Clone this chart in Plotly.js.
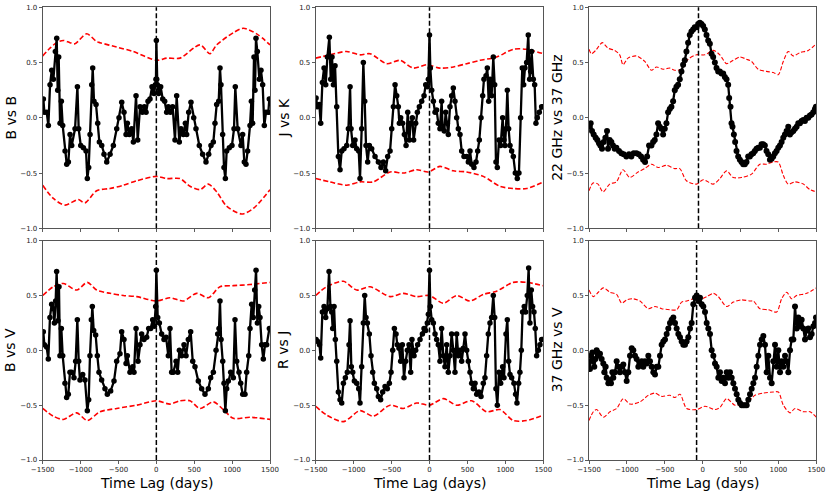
<!DOCTYPE html>
<html><head><meta charset="utf-8">
<script src="https://cdn.plot.ly/plotly-3.0.1.min.js"></script>
<style>html,body{margin:0;padding:0;background:#fff;}#chart{width:830px;height:493px;}</style>
</head><body><div id="chart"></div>
<script>
const lagTicks = [-1500,-1000,-500,0,500,1000,1500];
const rTicks = [-1,-0.5,0,0.5,1];
const panelLabels = ["B vs B","J vs K","22 GHz vs 37 GHz","B vs V","R vs J","37 GHz vs V"];
const peakLags = [0,0,-55,0,0,-80];
const xTitle = "Time Lag (days)";

const bbCcf = [[-1491,0.17],[-1478,0.05],[-1447,0.05],[-1425,-0.07],[-1403,0.30],[-1381,0.43],[-1359,0.35],[-1333,0.60],[-1315,0.72],[-1302,0.25],[-1289,0.55],[-1271,-0.05],[-1254,0.15],[-1236,-0.07],[-1205,-0.30],[-1183,-0.42],[-1161,-0.40],[-1139,-0.15],[-1117,-0.25],[-1073,-0.10],[-1042,0.28],[-1025,-0.10],[-998,-0.25],[-963,-0.27],[-928,-0.30],[-911,-0.55],[-893,-0.45],[-875,-0.15],[-853,0.30],[-840,0.45],[-823,0.15],[-796,0.12],[-774,-0.05],[-752,-0.22],[-721,-0.25],[-691,-0.33],[-655,-0.40],[-611,-0.33],[-567,-0.25],[-523,-0.10],[-493,0.00],[-457,0.14],[-427,0.05],[-400,-0.15],[-383,-0.05],[-356,-0.15],[-325,-0.10],[-303,-0.22],[-268,0.20],[-246,-0.20],[-215,0.10],[-185,0.05],[-158,0.10],[-136,0.05],[-110,0.15],[-84,0.17],[-57,0.28],[-31,0.22],[-13,0.30],[-5,0.35],[0,0.70],[5,0.35],[13,0.30],[31,0.22],[57,0.28],[84,0.17],[110,0.15],[136,0.05],[158,0.10],[185,0.05],[215,0.10],[246,-0.20],[268,0.20],[303,-0.22],[325,-0.10],[356,-0.15],[383,-0.05],[400,-0.15],[427,0.05],[457,0.14],[493,0.00],[523,-0.10],[567,-0.25],[611,-0.33],[655,-0.40],[691,-0.33],[721,-0.25],[752,-0.22],[774,-0.05],[796,0.12],[823,0.15],[840,0.45],[853,0.30],[875,-0.15],[893,-0.45],[911,-0.55],[928,-0.30],[963,-0.27],[998,-0.25],[1025,-0.10],[1042,0.28],[1073,-0.10],[1117,-0.25],[1139,-0.15],[1161,-0.40],[1183,-0.42],[1205,-0.30],[1236,-0.07],[1254,0.15],[1271,-0.05],[1289,0.55],[1302,0.25],[1315,0.72],[1333,0.60],[1359,0.35],[1381,0.43],[1403,0.30],[1425,-0.07],[1447,0.05],[1478,0.05],[1491,0.17]];
const bbUpper = [[-1500,0.56],[-1404,0.63],[-1316,0.68],[-1228,0.70],[-1140,0.68],[-1074,0.67],[-920,0.76],[-788,0.69],[-744,0.68],[-524,0.64],[-304,0.60],[0,0.52],[136,0.54],[312,0.54],[576,0.66],[708,0.58],[796,0.66],[1016,0.77],[1148,0.81],[1324,0.76],[1500,0.66]];
const bbLower = [[-1500,-0.61],[-1360,-0.73],[-1206,-0.79],[-1030,-0.74],[-942,-0.77],[-788,-0.66],[-612,-0.64],[-436,-0.61],[-260,-0.57],[0,-0.53],[136,-0.55],[312,-0.55],[444,-0.62],[576,-0.65],[686,-0.60],[796,-0.67],[928,-0.80],[1126,-0.87],[1280,-0.82],[1500,-0.65]];

const jkCcf = [[-1495,0.18],[-1478,0.10],[-1452,0.12],[-1434,-0.05],[-1412,0.32],[-1390,0.45],[-1368,0.30],[-1346,0.55],[-1320,0.73],[-1302,0.35],[-1285,0.55],[-1267,0.30],[-1245,0.47],[-1223,0.10],[-1201,-0.35],[-1179,-0.47],[-1157,-0.30],[-1127,-0.28],[-1091,-0.25],[-1069,-0.10],[-1047,0.28],[-1034,-0.10],[-1012,-0.25],[-982,-0.20],[-960,-0.28],[-933,-0.30],[-916,-0.55],[-894,-0.10],[-872,0.50],[-854,0.15],[-837,-0.25],[-815,-0.40],[-793,-0.25],[-762,-0.28],[-718,-0.35],[-674,-0.40],[-639,-0.45],[-608,-0.40],[-578,-0.48],[-551,-0.35],[-520,-0.30],[-498,-0.10],[-476,0.10],[-454,0.30],[-432,0.20],[-411,0.10],[-397,-0.05],[-380,0.00],[-354,-0.05],[-331,-0.15],[-309,-0.25],[-287,0.05],[-265,-0.20],[-248,-0.05],[-226,0.00],[-209,-0.20],[-182,-0.05],[-160,0.05],[-134,0.10],[-103,0.15],[-72,0.20],[-50,0.30],[-29,0.28],[-15,0.35],[0,0.75],[11,0.45],[29,0.25],[51,0.15],[73,0.05],[94,0.07],[116,-0.05],[138,-0.10],[160,0.15],[173,-0.10],[195,-0.12],[213,0.05],[235,-0.05],[248,-0.15],[270,0.10],[292,0.20],[314,0.27],[336,0.15],[358,0.00],[380,-0.10],[402,-0.15],[424,-0.30],[455,-0.35],[490,-0.35],[512,-0.40],[534,-0.30],[556,-0.42],[586,-0.45],[613,-0.40],[635,-0.30],[657,-0.20],[679,0.00],[701,0.20],[718,0.35],[745,0.38],[762,0.45],[780,0.15],[797,0.35],[819,0.20],[841,0.55],[859,0.30],[876,-0.40],[894,-0.45],[916,-0.20],[938,-0.25],[964,0.00],[982,-0.20],[995,-0.25],[1008,-0.10],[1026,0.25],[1043,-0.10],[1061,-0.25],[1083,-0.30],[1105,-0.35],[1131,-0.50],[1157,-0.55],[1179,-0.50],[1201,0.00],[1223,0.45],[1241,0.30],[1258,0.45],[1280,0.50],[1302,0.75],[1320,0.35],[1333,0.42],[1346,0.60],[1368,0.35],[1386,0.30],[1403,-0.05],[1421,0.00],[1447,0.05],[1478,0.10],[1495,0.10]];
const jkUpper = [[-1500,0.54],[-1311,0.57],[-1092,0.60],[-916,0.57],[-784,0.58],[-564,0.49],[-389,0.52],[-213,0.45],[-37,0.48],[138,0.45],[314,0.46],[490,0.49],[665,0.52],[885,0.55],[1104,0.62],[1280,0.62],[1500,0.58]];
const jkLower = [[-1500,-0.55],[-1311,-0.58],[-1092,-0.61],[-916,-0.58],[-740,-0.58],[-520,-0.49],[-345,-0.50],[-169,-0.47],[-15,-0.49],[138,-0.44],[314,-0.48],[490,-0.49],[709,-0.53],[929,-0.62],[1104,-0.64],[1280,-0.64],[1500,-0.58]];

const radioCcf = [[-1491,-0.08],[-1478,-0.05],[-1460,-0.12],[-1438,-0.15],[-1412,-0.18],[-1390,-0.20],[-1368,-0.23],[-1350,-0.25],[-1328,-0.28],[-1306,-0.22],[-1284,-0.18],[-1262,-0.12],[-1249,-0.28],[-1227,-0.20],[-1205,-0.22],[-1183,-0.25],[-1161,-0.28],[-1139,-0.27],[-1104,-0.30],[-1073,-0.32],[-1042,-0.33],[-1007,-0.35],[-972,-0.33],[-941,-0.35],[-910,-0.32],[-874,-0.32],[-844,-0.33],[-813,-0.35],[-786,-0.38],[-760,-0.40],[-733,-0.35],[-707,-0.25],[-676,-0.25],[-654,-0.22],[-632,-0.20],[-610,-0.15],[-588,-0.05],[-566,-0.08],[-544,-0.10],[-522,-0.15],[-500,-0.10],[-478,-0.05],[-456,0.05],[-434,0.08],[-412,0.10],[-390,0.15],[-368,0.25],[-346,0.28],[-324,0.30],[-302,0.35],[-280,0.42],[-258,0.48],[-236,0.52],[-214,0.60],[-192,0.68],[-170,0.75],[-148,0.78],[-126,0.80],[-104,0.82],[-81,0.82],[-59,0.85],[-37,0.86],[-15,0.85],[7,0.83],[29,0.80],[51,0.75],[73,0.70],[95,0.67],[117,0.58],[139,0.55],[161,0.50],[183,0.45],[205,0.42],[227,0.42],[249,0.40],[271,0.40],[293,0.37],[315,0.35],[337,0.30],[350,0.18],[368,0.10],[381,-0.05],[394,-0.08],[412,-0.15],[429,-0.22],[447,-0.30],[469,-0.35],[491,-0.38],[513,-0.40],[535,-0.42],[557,-0.42],[579,-0.40],[601,-0.35],[623,-0.35],[645,-0.33],[667,-0.32],[689,-0.30],[711,-0.28],[733,-0.27],[755,-0.27],[777,-0.24],[799,-0.24],[821,-0.25],[843,-0.30],[866,-0.33],[888,-0.38],[910,-0.37],[932,-0.35],[954,-0.32],[976,-0.30],[998,-0.27],[1020,-0.25],[1042,-0.22],[1064,-0.18],[1086,-0.15],[1108,-0.12],[1130,-0.08],[1152,-0.15],[1174,-0.13],[1196,-0.12],[1218,-0.10],[1240,-0.08],[1262,-0.05],[1284,-0.05],[1306,-0.03],[1328,-0.02],[1350,-0.03],[1372,0.00],[1394,0.00],[1416,0.02],[1438,0.03],[1460,0.05],[1482,0.08],[1495,0.10]];
const radioUpper = [[-1500,0.62],[-1469,0.58],[-1412,0.61],[-1324,0.68],[-1249,0.63],[-1161,0.61],[-1095,0.57],[-1051,0.48],[-985,0.54],[-874,0.56],[-764,0.51],[-676,0.43],[-610,0.46],[-522,0.44],[-434,0.45],[-368,0.43],[-280,0.44],[-192,0.53],[-81,0.57],[29,0.57],[139,0.61],[227,0.57],[315,0.49],[403,0.52],[491,0.55],[579,0.53],[645,0.51],[733,0.44],[843,0.42],[932,0.41],[998,0.39],[1064,0.51],[1130,0.60],[1196,0.56],[1284,0.59],[1394,0.61],[1500,0.67]];
const radioLower = [[-1500,-0.66],[-1447,-0.59],[-1381,-0.60],[-1315,-0.67],[-1227,-0.60],[-1139,-0.58],[-1051,-0.47],[-963,-0.54],[-852,-0.49],[-764,-0.46],[-676,-0.42],[-588,-0.45],[-478,-0.43],[-368,-0.46],[-302,-0.46],[-214,-0.57],[-81,-0.60],[7,-0.56],[139,-0.60],[227,-0.55],[315,-0.48],[403,-0.54],[513,-0.54],[645,-0.51],[755,-0.42],[843,-0.42],[932,-0.40],[998,-0.40],[1064,-0.52],[1130,-0.60],[1218,-0.58],[1328,-0.60],[1416,-0.65],[1500,-0.67]];

const bvCcf = [[-1492,0.17],[-1478,0.05],[-1448,0.03],[-1426,-0.08],[-1404,0.30],[-1382,0.42],[-1360,0.38],[-1346,0.25],[-1329,0.45],[-1316,0.72],[-1298,0.27],[-1285,0.58],[-1272,-0.05],[-1254,0.20],[-1236,-0.05],[-1206,-0.30],[-1184,-0.43],[-1162,-0.40],[-1140,-0.20],[-1118,-0.20],[-1087,-0.25],[-1065,-0.10],[-1043,0.28],[-1025,-0.10],[-1008,-0.27],[-972,-0.22],[-942,-0.27],[-911,-0.55],[-893,-0.45],[-876,-0.05],[-858,0.28],[-845,0.40],[-827,0.18],[-801,0.14],[-779,-0.05],[-757,-0.20],[-722,-0.27],[-678,-0.35],[-647,-0.40],[-603,-0.37],[-559,-0.28],[-524,-0.10],[-480,-0.03],[-458,0.17],[-427,0.10],[-400,-0.12],[-383,-0.05],[-348,-0.20],[-312,-0.15],[-295,-0.20],[-268,0.20],[-242,-0.10],[-216,0.05],[-194,0.15],[-163,0.10],[-128,0.12],[-101,0.20],[-75,0.20],[-48,0.28],[-26,0.22],[-9,0.40],[0,0.73],[18,0.30],[40,0.25],[70,0.15],[101,0.10],[128,0.12],[158,-0.05],[180,0.20],[202,-0.20],[224,-0.20],[260,-0.10],[282,-0.20],[304,0.00],[334,-0.05],[365,0.05],[392,-0.05],[422,0.10],[453,0.17],[480,-0.10],[510,-0.15],[554,-0.28],[598,-0.35],[642,-0.40],[686,-0.35],[717,-0.25],[752,-0.20],[788,0.00],[810,0.15],[827,0.20],[840,0.45],[854,0.10],[876,-0.10],[893,-0.30],[911,-0.55],[928,-0.35],[950,-0.28],[981,-0.20],[1016,-0.25],[1038,0.28],[1060,-0.10],[1091,-0.20],[1113,-0.30],[1140,-0.40],[1170,-0.40],[1192,-0.20],[1219,-0.05],[1236,0.20],[1258,0.42],[1280,0.30],[1298,0.55],[1316,0.73],[1333,0.25],[1351,0.40],[1368,0.30],[1390,0.05],[1412,-0.08],[1434,0.05],[1456,0.05],[1492,0.20]];
const bvUpper = [[-1500,0.50],[-1360,0.58],[-1228,0.61],[-1052,0.55],[-911,0.62],[-788,0.55],[-612,0.52],[-436,0.50],[-260,0.49],[0,0.45],[180,0.48],[356,0.45],[532,0.52],[686,0.48],[840,0.58],[1016,0.59],[1236,0.60],[1500,0.62]];
const bvLower = [[-1500,-0.53],[-1360,-0.60],[-1228,-0.63],[-1052,-0.57],[-911,-0.64],[-744,-0.56],[-524,-0.53],[-260,-0.50],[0,-0.46],[180,-0.49],[312,-0.46],[444,-0.46],[576,-0.53],[752,-0.47],[884,-0.54],[1016,-0.62],[1236,-0.61],[1500,-0.63]];

const rjCcf = [[-1495,0.10],[-1473,0.08],[-1450,0.05],[-1434,-0.07],[-1412,0.35],[-1390,0.40],[-1368,0.30],[-1346,0.38],[-1324,0.72],[-1306,0.40],[-1289,0.35],[-1276,0.20],[-1258,0.40],[-1241,0.10],[-1223,-0.10],[-1201,-0.38],[-1179,-0.45],[-1157,-0.48],[-1135,-0.30],[-1109,-0.25],[-1083,-0.20],[-1061,0.05],[-1047,0.27],[-1030,-0.15],[-1012,-0.20],[-990,-0.28],[-960,-0.30],[-933,-0.35],[-916,-0.48],[-894,-0.15],[-872,0.25],[-854,0.50],[-837,0.30],[-819,0.25],[-793,0.15],[-771,-0.05],[-749,-0.20],[-727,-0.30],[-696,-0.35],[-674,-0.42],[-644,-0.45],[-617,-0.38],[-586,-0.33],[-556,-0.35],[-529,-0.30],[-507,-0.20],[-485,0.00],[-463,0.20],[-441,0.15],[-424,0.05],[-402,0.02],[-380,-0.10],[-358,0.05],[-336,-0.25],[-314,-0.10],[-292,0.00],[-270,0.05],[-248,-0.20],[-231,0.10],[-204,-0.05],[-182,0.00],[-156,0.05],[-125,0.10],[-94,0.15],[-72,0.20],[-50,0.18],[-29,0.25],[-15,0.33],[0,0.73],[11,0.40],[29,0.28],[51,0.25],[73,0.15],[94,0.10],[116,0.05],[138,-0.10],[160,0.20],[182,-0.05],[204,-0.15],[226,0.05],[248,-0.20],[270,-0.05],[292,0.15],[314,0.00],[336,-0.20],[358,0.15],[380,-0.05],[402,0.00],[424,-0.10],[446,0.02],[468,0.15],[490,0.00],[512,-0.10],[534,-0.20],[556,-0.30],[578,-0.35],[600,-0.30],[622,-0.40],[652,-0.38],[679,-0.42],[709,-0.30],[731,-0.25],[753,-0.05],[775,0.15],[797,0.25],[819,0.30],[841,0.50],[859,0.30],[876,-0.35],[894,-0.50],[916,-0.20],[938,-0.30],[964,-0.15],[982,-0.25],[1008,0.15],[1026,0.28],[1043,-0.10],[1061,-0.22],[1083,-0.25],[1113,-0.30],[1135,-0.40],[1153,-0.48],[1175,-0.30],[1192,-0.20],[1210,0.00],[1227,0.35],[1249,0.40],[1267,0.35],[1289,0.50],[1307,0.75],[1324,0.25],[1342,0.55],[1359,0.40],[1377,0.35],[1394,0.20],[1412,-0.05],[1434,0.00],[1456,0.05],[1478,0.10],[1495,0.10]];
const rjUpper = [[-1500,0.50],[-1355,0.58],[-1135,0.63],[-960,0.55],[-784,0.58],[-520,0.49],[-345,0.52],[-169,0.49],[0,0.50],[182,0.43],[358,0.50],[534,0.45],[709,0.51],[885,0.54],[1104,0.62],[1280,0.62],[1500,0.59]];
const rjLower = [[-1500,-0.51],[-1355,-0.59],[-1135,-0.65],[-916,-0.55],[-740,-0.60],[-520,-0.50],[-345,-0.53],[-169,-0.48],[0,-0.50],[182,-0.44],[358,-0.50],[556,-0.46],[753,-0.56],[929,-0.54],[1104,-0.64],[1280,-0.64],[1500,-0.59]];

const rvCcf = [[-1496,-0.10],[-1487,-0.17],[-1474,-0.05],[-1456,-0.02],[-1443,-0.10],[-1430,-0.15],[-1416,-0.08],[-1399,0.00],[-1386,-0.02],[-1368,-0.05],[-1355,-0.03],[-1333,-0.08],[-1311,-0.12],[-1298,-0.20],[-1280,-0.15],[-1267,-0.25],[-1245,-0.30],[-1223,-0.27],[-1210,-0.30],[-1192,-0.20],[-1179,-0.25],[-1157,-0.20],[-1135,-0.10],[-1113,-0.15],[-1091,-0.20],[-1069,-0.15],[-1047,-0.13],[-1025,-0.20],[-1003,-0.28],[-981,-0.20],[-959,-0.05],[-937,0.02],[-915,0.00],[-893,-0.05],[-871,-0.08],[-849,-0.15],[-827,-0.12],[-805,-0.10],[-783,-0.15],[-761,-0.10],[-739,-0.12],[-717,-0.05],[-695,-0.10],[-673,-0.15],[-651,-0.20],[-629,-0.22],[-607,-0.15],[-585,-0.15],[-563,-0.05],[-541,0.05],[-519,0.08],[-497,0.10],[-475,0.15],[-453,0.20],[-431,0.25],[-409,0.28],[-387,0.30],[-365,0.25],[-343,0.20],[-321,0.15],[-299,0.12],[-277,0.08],[-255,0.05],[-233,0.05],[-211,0.08],[-189,0.12],[-167,0.20],[-145,0.25],[-123,0.42],[-101,0.48],[-79,0.50],[-57,0.45],[-35,0.48],[-13,0.42],[9,0.40],[31,0.35],[53,0.25],[75,0.20],[97,0.15],[119,0.00],[141,-0.05],[163,-0.12],[185,-0.15],[207,-0.25],[229,-0.20],[251,-0.28],[273,-0.25],[295,-0.30],[317,-0.20],[339,-0.25],[361,-0.20],[383,-0.25],[405,-0.30],[427,-0.35],[449,-0.40],[471,-0.45],[493,-0.48],[515,-0.50],[537,-0.50],[559,-0.50],[581,-0.50],[603,-0.45],[625,-0.40],[647,-0.35],[669,-0.30],[691,-0.25],[713,-0.15],[735,-0.05],[757,0.05],[779,0.10],[801,0.13],[823,0.05],[845,-0.20],[867,-0.05],[889,-0.25],[911,-0.30],[933,-0.10],[955,0.05],[977,-0.15],[999,0.00],[1021,-0.20],[1043,-0.10],[1065,-0.15],[1087,-0.05],[1109,-0.10],[1131,-0.20],[1153,0.00],[1175,0.10],[1197,0.10],[1219,0.40],[1241,0.20],[1263,0.30],[1285,0.22],[1307,0.28],[1329,0.20],[1351,0.10],[1373,0.18],[1395,0.20],[1417,0.12],[1439,0.15],[1461,0.22],[1483,0.25],[1496,0.30]];
const rvUpper = [[-1500,0.55],[-1443,0.49],[-1377,0.53],[-1311,0.57],[-1223,0.53],[-1135,0.51],[-1069,0.43],[-1003,0.46],[-915,0.47],[-827,0.45],[-717,0.38],[-629,0.40],[-541,0.38],[-431,0.37],[-343,0.37],[-277,0.44],[-211,0.45],[-123,0.47],[-13,0.47],[53,0.49],[141,0.52],[207,0.49],[317,0.40],[405,0.44],[515,0.46],[625,0.45],[669,0.45],[757,0.38],[867,0.37],[977,0.35],[1043,0.47],[1109,0.53],[1175,0.47],[1241,0.50],[1373,0.52],[1500,0.57]];
const rvLower = [[-1500,-0.64],[-1443,-0.56],[-1399,-0.54],[-1311,-0.61],[-1223,-0.56],[-1135,-0.53],[-1047,-0.44],[-959,-0.49],[-827,-0.47],[-717,-0.41],[-629,-0.39],[-541,-0.42],[-431,-0.41],[-365,-0.43],[-299,-0.40],[-211,-0.53],[-79,-0.54],[31,-0.51],[163,-0.54],[229,-0.52],[317,-0.44],[427,-0.50],[581,-0.48],[691,-0.41],[801,-0.39],[933,-0.38],[999,-0.38],[1065,-0.50],[1153,-0.57],[1219,-0.53],[1329,-0.56],[1417,-0.56],[1500,-0.61]];

const ccfSets = [bbCcf, jkCcf, radioCcf, bvCcf, rjCcf, rvCcf];
const upperSets = [bbUpper, jkUpper, radioUpper, bvUpper, rjUpper, rvUpper];
const lowerSets = [bbLower, jkLower, radioLower, bvLower, rjLower, rvLower];

const W = 830, H = 493;
const colPx = [[42.7,270],[315.7,543.3],[589,816.3]];
const rowPx = [[7.3,228.3],[240.7,460]];

const traces = [];
const layout = {
  width: W, height: H,
  margin: {l:0, r:0, t:0, b:0},
  paper_bgcolor: '#fff', plot_bgcolor: '#fff',
  showlegend: false,
  shapes: [], annotations: []
};
const tickFont = {family: 'DejaVu Sans', size: 7, color: '#222'};
const labFont = {family: 'DejaVu Sans', size: 14, color: '#000'};

for (let i = 0; i < 6; i++) {
  const row = Math.floor(i / 3), col = i % 3;
  const sfx = i === 0 ? '' : String(i + 1);
  const xa = 'x' + sfx, ya = 'y' + sfx;
  const thin = col === 2;
  const redLine = {color: 'red', width: thin ? 1.1 : 1.6, dash: thin ? '4px,2px' : '5px,2.5px', shape: 'spline', smoothing: 0.8};
  [upperSets[i], lowerSets[i]].forEach(s => traces.push({
    x: s.map(p => p[0]), y: s.map(p => p[1]), xaxis: xa, yaxis: ya,
    mode: 'lines', line: redLine, hoverinfo: 'skip'
  }));
  const c = ccfSets[i];
  traces.push({
    x: c.map(p => p[0]), y: c.map(p => p[1]), xaxis: xa, yaxis: ya,
    mode: 'lines+markers', line: {color: '#000', width: 2.3},
    marker: {color: '#000', size: thin ? 6 : 5.5}
  });
  const common = {showline: true, mirror: true, linecolor: '#555', linewidth: 1,
    ticks: 'outside', ticklen: 3, tickwidth: 0.8, tickcolor: '#333',
    showgrid: false, zeroline: false, tickfont: tickFont, fixedrange: true};
  layout['xaxis' + sfx] = Object.assign({}, common, {
    domain: [colPx[col][0] / W, colPx[col][1] / W], anchor: ya,
    range: [-1500, 1500], tickmode: 'array', tickvals: lagTicks,
    showticklabels: row === 1
  });
  layout['yaxis' + sfx] = Object.assign({}, common, {
    domain: [1 - rowPx[row][1] / H, 1 - rowPx[row][0] / H], anchor: xa,
    range: [-1, 1], tickmode: 'array', tickvals: rTicks, tickformat: '.1f'
  });
  layout.shapes.push({type: 'line', xref: xa, yref: ya + ' domain',
    x0: peakLags[i], x1: peakLags[i], y0: 0, y1: 1,
    line: {color: '#000', width: 1.5, dash: '5px,2.5px'}});
  layout.annotations.push({xref: 'paper', yref: 'paper',
    x: (colPx[col][0] - 32) / W, y: 1 - (rowPx[row][0] + rowPx[row][1]) / 2 / H,
    text: panelLabels[i], textangle: -90, showarrow: false, font: labFont,
    xanchor: 'center', yanchor: 'middle'});
  if (row === 1) {
    layout.annotations.push({xref: 'paper', yref: 'paper',
      x: (colPx[col][0] + colPx[col][1]) / 2 / W, y: 1 - 483 / H,
      text: xTitle, showarrow: false, font: labFont, xanchor: 'center', yanchor: 'middle'});
  }
}
Plotly.newPlot('chart', traces, layout, {displayModeBar: false, staticPlot: true});
</script></body></html>
